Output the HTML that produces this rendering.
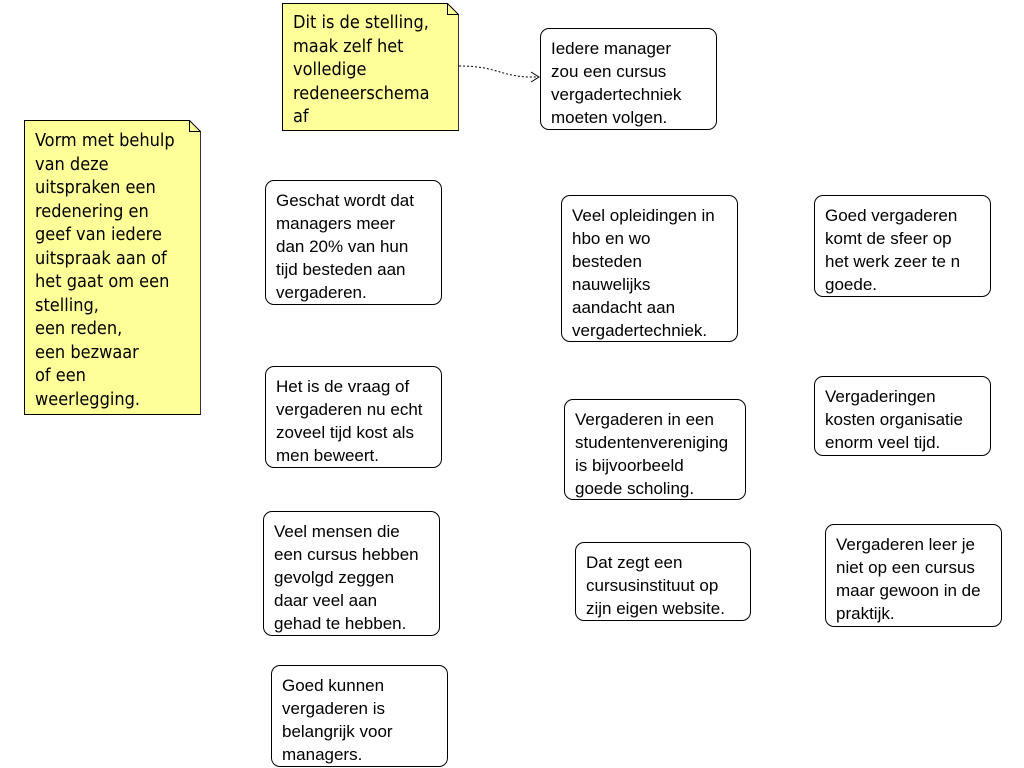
<!DOCTYPE html>
<html><head><meta charset="utf-8"><style>
body{margin:0;width:1024px;height:768px;background:#fff;position:relative;overflow:hidden}
.b{position:absolute;box-sizing:border-box;border:1px solid #000;border-radius:9px;background:#fff;font:17px/23px "Liberation Sans",sans-serif;color:#000;padding:8px 10px;white-space:nowrap}
.n{position:absolute;box-sizing:border-box;background:#ffff99;border:1px solid #000;border-right-color:#333;font:18px/23.5px "DejaVu Sans Condensed","DejaVu Sans",sans-serif;color:#000;padding:7px 10px;white-space:nowrap;clip-path:polygon(0 0,calc(100% - 12px) 0,100% 12px,100% 100%,0 100%)}
.f{position:absolute;width:12px;height:12px}
</style></head><body>
<div class="n" style="left:24px;top:120px;width:177px;height:295px;padding-top:8px">Vorm met behulp<br>van deze<br>uitspraken een<br>redenering en<br>geef van iedere<br>uitspraak aan of<br>het gaat om een<br>stelling,<br>een reden,<br>een bezwaar<br>of een<br>weerlegging.</div>
<svg class="f" style="left:189px;top:120px" viewBox="0 0 12 12"><path d="M0.5 0.5 L11.5 11.5 L0.5 11.5 Z" fill="#ffff99" stroke="#000"/></svg>
<div class="n" style="left:282px;top:3px;width:177px;height:128px">Dit is de stelling,<br>maak zelf het<br>volledige<br>redeneerschema<br>af</div>
<svg class="f" style="left:447px;top:3px" viewBox="0 0 12 12"><path d="M0.5 0.5 L11.5 11.5 L0.5 11.5 Z" fill="#ffff99" stroke="#000"/></svg>
<svg style="position:absolute;left:0;top:0" width="1024" height="768"><path d="M459 66 C500 66 500 78 538 77" fill="none" stroke="#000" stroke-dasharray="2,2"/><path d="M531 72 L539 77 L531 82" fill="none" stroke="#000"/></svg>
<div class="b" style="left:540px;top:28px;width:177px;height:102px">Iedere manager<br>zou een cursus<br>vergadertechniek<br>moeten volgen.</div>
<div class="b" style="left:265px;top:180px;width:177px;height:125px">Geschat wordt dat<br>managers meer<br>dan 20% van hun<br>tijd besteden aan<br>vergaderen.</div>
<div class="b" style="left:561px;top:195px;width:177px;height:147px">Veel opleidingen in<br>hbo en wo<br>besteden<br>nauwelijks<br>aandacht aan<br>vergadertechniek.</div>
<div class="b" style="left:814px;top:195px;width:177px;height:102px">Goed vergaderen<br>komt de sfeer op<br>het werk zeer te n<br>goede.</div>
<div class="b" style="left:265px;top:366px;width:177px;height:102px">Het is de vraag of<br>vergaderen nu echt<br>zoveel tijd kost als<br>men beweert.</div>
<div class="b" style="left:564px;top:399px;width:182px;height:101px">Vergaderen in een<br>studentenvereniging<br>is bijvoorbeeld<br>goede scholing.</div>
<div class="b" style="left:814px;top:376px;width:177px;height:80px">Vergaderingen<br>kosten organisatie<br>enorm veel tijd.</div>
<div class="b" style="left:263px;top:511px;width:177px;height:125px">Veel mensen die<br>een cursus hebben<br>gevolgd zeggen<br>daar veel aan<br>gehad te hebben.</div>
<div class="b" style="left:575px;top:542px;width:176px;height:79px">Dat zegt een<br>cursusinstituut op<br>zijn eigen website.</div>
<div class="b" style="left:825px;top:524px;width:177px;height:103px">Vergaderen leer je<br>niet op een cursus<br>maar gewoon in de<br>praktijk.</div>
<div class="b" style="left:271px;top:665px;width:177px;height:102px">Goed kunnen<br>vergaderen is<br>belangrijk voor<br>managers.</div>
</body></html>
